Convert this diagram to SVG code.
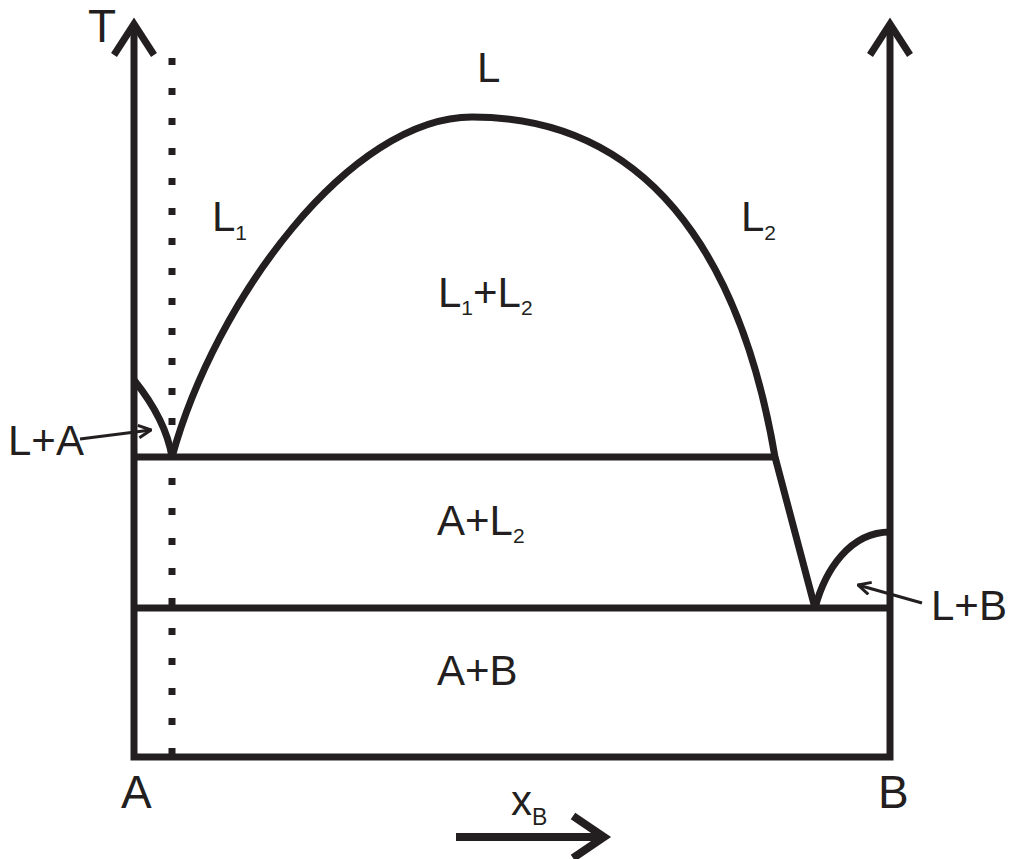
<svg xmlns="http://www.w3.org/2000/svg" width="1011" height="859" viewBox="0 0 1011 859">
<style>
.thick{fill:none;stroke:#231f20;stroke-width:7;stroke-linejoin:miter;stroke-miterlimit:10}
.thin{fill:none;stroke:#231f20;stroke-width:3}
.lbl{font-family:"Liberation Sans",Arial,sans-serif;font-size:42px;fill:#231f20}
.big{font-size:46px}
.sub{font-size:21px}
</style>
<defs>
<marker id="open" viewBox="0 0 12 12" refX="11" refY="6" markerWidth="15" markerHeight="15" markerUnits="userSpaceOnUse" orient="auto">
<path d="M1,1 L11,6 L1,11" fill="none" stroke="#231f20" stroke-width="2.4"/>
</marker>
</defs>
<rect width="1011" height="859" fill="#fff"/>
<g id="axes">
<path class="thick" d="M134,24 V757 H890 V24"/>
<polyline class="thick" points="114,55 134,24 154,55"/>
<polyline class="thick" points="870,55 890,24 910,55"/>
<line x1="172" y1="58" x2="172" y2="757" stroke="#231f20" stroke-width="7" stroke-dasharray="7 23"/>
</g>
<g id="phase-lines">
<line class="thick" x1="134" y1="457" x2="775" y2="457"/>
<line class="thick" x1="134" y1="608" x2="890" y2="608"/>
<path class="thick" d="M172,457 C215,300 350,117 472,117 C680,117 750,310 775,457 L815,608"/>
<path class="thick" d="M134,380 Q166,420 172,457"/>
<path class="thick" d="M815,608 C825,570 850,532 890,532"/>
</g>
<g id="labels">
<text class="lbl big" x="88" y="42">T</text>
<text class="lbl" x="477" y="82">L</text>
<text class="lbl" x="212" y="231">L<tspan class="sub" dy="9">1</tspan></text>
<text class="lbl" x="741" y="231">L<tspan class="sub" dy="9">2</tspan></text>
<text class="lbl" x="438" y="307">L<tspan class="sub" dy="8">1</tspan><tspan dy="-8">+L</tspan><tspan class="sub" dy="8">2</tspan></text>
<text class="lbl" x="437" y="535">A+L<tspan class="sub" dy="8">2</tspan></text>
<text class="lbl" x="437" y="685">A+B</text>
<text class="lbl" x="8" y="455">L+A</text>
<text class="lbl" x="931" y="620">L+B</text>
<text class="lbl big" x="121" y="808">A</text>
<text class="lbl big" x="878" y="808">B</text>
<text class="lbl" x="511" y="815">x<tspan class="sub" dy="10" style="font-size:23px">B</tspan></text>
</g>
<g id="connectors">
<line class="thin" x1="80" y1="439" x2="151" y2="430" marker-end="url(#open)"/>
<line class="thin" x1="922" y1="603" x2="858" y2="585" marker-end="url(#open)"/>
<line class="thick" style="stroke-width:8" x1="456" y1="837" x2="602" y2="837"/>
<polyline class="thick" style="stroke-width:8" points="573,816 604,837 573,858"/>
</g>
</svg>
